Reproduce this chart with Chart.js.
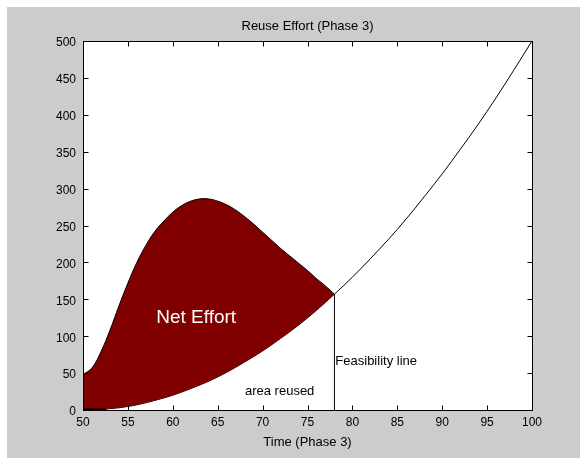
<!DOCTYPE html>
<html>
<head>
<meta charset="utf-8">
<title>Reuse Effort (Phase 3)</title>
<script src="https://cdn.jsdelivr.net/npm/chart.js@4.4.1/dist/chart.umd.min.js"></script>
<style>
  html, body { margin: 0; padding: 0; background: #ffffff; }
  #wrap { width: 580px; height: 458px; }
</style>
</head>
<body>
<div id="wrap"><canvas id="chart" width="580" height="458"></canvas></div>
<script>
// Cumulative effort of the reused area over time
const timeReused = [50, 52, 54, 56, 58, 60, 62, 64, 66, 68, 70, 72, 74, 76, 78,
                    80, 82, 84, 86, 88, 90, 92, 94, 96, 98, 100];
const effortReused = [0, 1, 3, 7, 13, 20, 29, 39, 51, 65, 80, 97, 115, 135, 157,
                      180, 205, 231, 259, 289, 320, 353, 387, 423, 461, 500];

// Upper boundary of the net effort region (up to the feasibility point)
const timeNet = [50, 51, 52, 53, 54, 55, 56, 57, 58, 59, 60, 61, 62, 63, 64,
                 65, 66, 67, 68, 69, 70, 71, 72, 73, 74, 75, 76, 77, 78];
const effortNet = [48, 57, 79, 108, 141, 172, 200, 223, 242, 256, 268, 277, 283, 286, 286,
                   283, 278, 271, 262, 252, 241, 230, 219, 209, 199, 189, 178, 168, 157];

// Feasibility line
const feasibilityTime = [78, 78];
const feasibilityEffort = [0, 157];

// Axis ticks
const xTicks = [50, 55, 60, 65, 70, 75, 80, 85, 90, 95, 100];
const yTicks = [0, 50, 100, 150, 200, 250, 300, 350, 400, 450, 500];

const titleText = 'Reuse Effort (Phase 3)';
const xAxisText = 'Time (Phase 3)';

// In-plot annotations: [text, time, effort, colour, font, align]
const annotations = [
  ['Net Effort', 62.6, 125, '#ffffff', '19px "Liberation Sans", Arial, sans-serif', 'center'],
  ['area reused', 71.9, 25, '#000000', '13px "Liberation Sans", Arial, sans-serif', 'center'],
  ['Feasibility line', 78.1, 66, '#000000', '13px "Liberation Sans", Arial, sans-serif', 'left']
];

const toPoints = (xs, ys) => xs.map((x, i) => ({ x: x, y: ys[i] }));

const FONT = '"Liberation Sans", Arial, sans-serif';

// Figure background, axes frame with inward ticks, titles and annotations
const figurePlugin = {
  id: 'figurePlugin',
  beforeDraw(chart) {
    const { ctx, chartArea: a } = chart;
    ctx.save();
    ctx.fillStyle = '#ffffff';
    ctx.fillRect(0, 0, chart.width, chart.height);
    ctx.fillStyle = '#cccccc';
    ctx.fillRect(7, 7, chart.width - 7, chart.height - 7);
    ctx.fillStyle = '#ffffff';
    ctx.fillRect(a.left, a.top, a.right - a.left, a.bottom - a.top);
    ctx.restore();
  },
  afterDatasetsDraw(chart) {
    const { ctx, chartArea: a, scales } = chart;
    const xs = scales.x, ys = scales.y;
    ctx.save();
    // baseline segment where the reused curve sits on zero
    ctx.strokeStyle = '#000000';
    ctx.lineWidth = 2;
    ctx.beginPath();
    ctx.moveTo(xs.getPixelForValue(50), Math.round(ys.getPixelForValue(0)) - 0.5);
    ctx.lineTo(xs.getPixelForValue(52.6), Math.round(ys.getPixelForValue(0)) - 0.5);
    ctx.stroke();
    // annotations
    ctx.textBaseline = 'middle';
    annotations.forEach(([t, x, y, c, f, al]) => {
      ctx.font = f;
      ctx.fillStyle = c;
      ctx.textAlign = al;
      ctx.fillText(t, xs.getPixelForValue(x), ys.getPixelForValue(y));
    });
    // frame
    ctx.strokeStyle = '#000000';
    ctx.lineWidth = 1;
    const L = Math.round(a.left) + 0.5, R = Math.round(a.right) + 0.5;
    const T = Math.round(a.top) + 0.5, B = Math.round(a.bottom) + 0.5;
    ctx.strokeRect(L, T, R - L, B - T);
    // inward ticks
    const tl = 5;
    ctx.beginPath();
    xTicks.forEach(v => {
      const px = Math.round(xs.getPixelForValue(v)) + 0.5;
      ctx.moveTo(px, B); ctx.lineTo(px, B - tl);
      ctx.moveTo(px, T); ctx.lineTo(px, T + tl);
    });
    yTicks.forEach(v => {
      const py = Math.round(ys.getPixelForValue(v)) + 0.5;
      ctx.moveTo(L, py); ctx.lineTo(L + tl, py);
      ctx.moveTo(R, py); ctx.lineTo(R - tl, py);
    });
    ctx.stroke();
    // title and axis label
    ctx.fillStyle = '#000000';
    ctx.textAlign = 'center';
    ctx.font = '13px ' + FONT;
    const cx = (a.left + a.right) / 2;
    ctx.fillText(titleText, cx, a.top - 15);
    ctx.fillText(xAxisText, cx, a.bottom + 32);
    ctx.restore();
  }
};

new Chart(document.getElementById('chart'), {
  type: 'scatter',
  data: {
    datasets: [
      {
        label: 'area reused',
        data: toPoints(timeReused, effortReused),
        showLine: true,
        borderColor: '#000000',
        borderWidth: 1,
        pointRadius: 0,
        fill: false,
        cubicInterpolationMode: 'monotone',
        order: 2
      },
      {
        label: 'Net Effort',
        data: toPoints(timeNet, effortNet),
        showLine: true,
        borderColor: '#000000',
        borderWidth: 1,
        backgroundColor: '#800000',
        pointRadius: 0,
        fill: { target: 0 },
        tension: 0.4,
        order: 1
      },
      {
        label: 'Feasibility line',
        data: toPoints(feasibilityTime, feasibilityEffort),
        showLine: true,
        borderColor: '#000000',
        borderWidth: 1,
        pointRadius: 0,
        fill: false,
        order: 0
      }
    ]
  },
  options: {
    responsive: false,
    animation: false,
    devicePixelRatio: 1,
    layout: { padding: { left: 0, right: 48, top: 41, bottom: 0 } },
    plugins: {
      legend: { display: false },
      title: { display: false },
      tooltip: { enabled: false },
      filler: { propagate: false }
    },
    scales: {
      x: {
        type: 'linear',
        min: 50, max: 100,
        afterFit(scale) { scale.height = 48; },
        afterBuildTicks(scale) { scale.ticks = xTicks.map(v => ({ value: v })); },
        grid: { display: false, drawTicks: false },
        border: { display: false },
        ticks: { color: '#000000', font: { family: FONT, size: 12 }, padding: 5, autoSkip: false, maxRotation: 0 }
      },
      y: {
        type: 'linear',
        min: 0, max: 500,
        afterFit(scale) { scale.width = 83; },
        afterBuildTicks(scale) { scale.ticks = yTicks.map(v => ({ value: v })); },
        grid: { display: false, drawTicks: false },
        border: { display: false },
        ticks: { color: '#000000', font: { family: FONT, size: 12 }, padding: 7, autoSkip: false, labelOffset: 2 }
      }
    }
  },
  plugins: [figurePlugin]
});
</script>
</body>
</html>
